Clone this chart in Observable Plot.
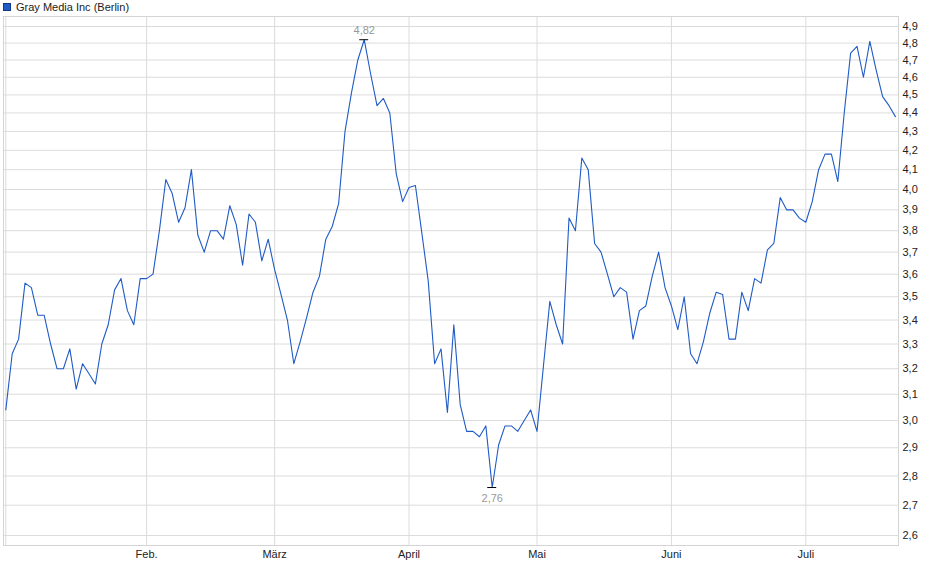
<!DOCTYPE html>
<html><head><meta charset="utf-8">
<script src="https://cdn.jsdelivr.net/npm/d3@7"></script>
<script src="https://cdn.jsdelivr.net/npm/@observablehq/plot@0.6"></script>
<style>
body{margin:0;background:#fff;font-family:"Liberation Sans",Arial,sans-serif;}
#legend{height:14px;font-size:11px;color:#222;display:flex;align-items:center;padding-left:3px;box-sizing:border-box;}
#legend .sw{display:inline-block;width:6px;height:6px;background:#1f5bc6;border:1px solid #123a80;margin-right:5px;}
</style></head><body>
<div id="legend"><span class="sw"></span><span>Gray Media Inc (Berlin)</span></div>
<div id="chart"></div>
<script>
const prices = [
  3.04,3.26,3.32,3.56,3.54,3.42,3.42,3.30,3.20,3.20,
  3.28,3.12,3.22,3.18,3.14,3.30,3.38,3.53,3.58,3.44,
  3.38,3.58,3.58,3.60,3.80,4.05,3.98,3.84,3.91,4.10,
  3.78,3.70,3.80,3.80,3.76,3.92,3.83,3.64,3.88,3.84,
  3.66,3.76,3.62,3.51,3.40,3.22,3.31,3.41,3.52,3.59,
  3.76,3.82,3.93,4.30,4.51,4.70,4.82,4.62,4.44,4.48,
  4.40,4.08,3.94,4.01,4.02,3.79,3.57,3.22,3.28,3.03,
  3.38,3.06,2.96,2.96,2.94,2.98,2.76,2.91,2.98,2.98,
  2.96,3.00,3.04,2.96,3.21,3.48,3.38,3.30,3.86,3.80,
  4.16,4.10,3.74,3.70,3.60,3.50,3.54,3.52,3.32,3.44,
  3.46,3.59,3.70,3.54,3.46,3.36,3.50,3.26,3.22,3.31,
  3.43,3.52,3.51,3.32,3.32,3.52,3.44,3.58,3.56,3.71,
  3.74,3.96,3.90,3.90,3.86,3.84,3.94,4.10,4.18,4.18,
  4.04,4.40,4.74,4.78,4.60,4.81,4.64,4.49,4.44,4.38
];
const monthStarts = [0, 22, 42, 63, 83, 104, 125];
const monthLabels = ["", "Feb.", "März", "April", "Mai", "Juni", "Juli"];
const yTicks = [2.6,2.7,2.8,2.9,3.0,3.1,3.2,3.3,3.4,3.5,3.6,3.7,3.8,3.9,4.0,4.1,4.2,4.3,4.4,4.5,4.6,4.7,4.8,4.9];

const data = prices.map((v, i) => ({i, v}));
const iMax = d3.maxIndex(prices);
const iMin = d3.minIndex(prices);
const fmt2 = d => d.toFixed(2).replace(".", ",");

const chart = Plot.plot({
  width: 940,
  height: 565,
  marginTop: 2,
  marginBottom: 34,
  marginLeft: 3,
  marginRight: 42,
  style: {fontFamily: '"Liberation Sans", Arial, sans-serif', fontSize: "11px", color: "#222", background: "#fff"},
  x: {domain: [-0.36, 139.48]},
  y: {type: "log", domain: [2.5678, 4.9614]},
  marks: [
    Plot.ruleY(yTicks, {stroke: "#dcdcdc"}),
    Plot.ruleX(monthStarts, {stroke: "#dcdcdc"}),
    Plot.frame({stroke: "#d4d4d4"}),
    Plot.axisY({anchor: "right", ticks: yTicks, tickFormat: d => d.toFixed(1).replace(".", ","), tickSize: 0, tickPadding: 4, label: null}),
    Plot.axisX({ticks: monthStarts.slice(1), tickFormat: d => monthLabels[monthStarts.indexOf(d)], tickSize: 0, tickPadding: 5, label: null}),
    Plot.line(data, {x: "i", y: "v", stroke: "#1f5bc6", strokeWidth: 1.1}),
    Plot.ruleY([iMax, iMin], {y: i => prices[i], x1: i => i - 0.7, x2: i => i + 0.7, stroke: "#000"}),
    Plot.text([iMax], {x: i => i, y: i => prices[i], text: i => fmt2(prices[i]), dy: -9, fill: "#999", fontSize: 11}),
    Plot.text([iMin], {x: i => i, y: i => prices[i], text: i => fmt2(prices[i]), dy: 11, fill: "#999", fontSize: 11})
  ]
});
document.getElementById("chart").appendChild(chart);
</script>
</body></html>
